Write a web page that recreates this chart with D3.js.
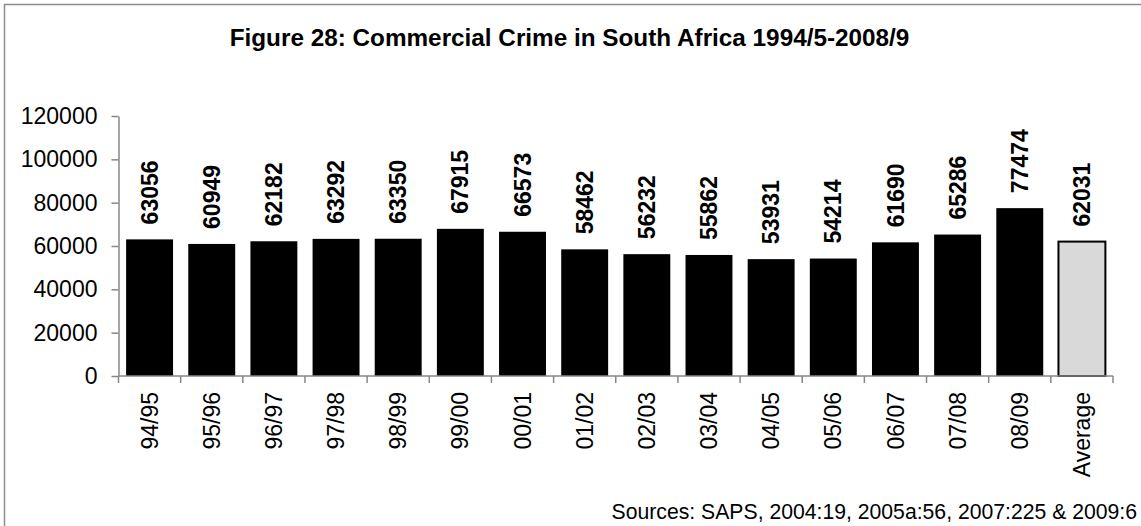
<!DOCTYPE html>
<html>
<head>
<meta charset="utf-8">
<script src="https://cdn.jsdelivr.net/npm/d3@7"></script>
<style>
  html, body { margin: 0; padding: 0; background: #fff; }
  svg { display: block; font-family: "Liberation Sans", Arial, Helvetica, sans-serif; }
</style>
</head>
<body>
<svg id="chart" width="1141" height="526"></svg>
<script>
// Commercial crime cases per financial year, plus the period average
const categories = ["94/95", "95/96", "96/97", "97/98", "98/99", "99/00", "00/01", "01/02",
                    "02/03", "03/04", "04/05", "05/06", "06/07", "07/08", "08/09", "Average"];
const values = [63056, 60949, 62182, 63292, 63350, 67915, 66573, 58462,
                56232, 55862, 53931, 54214, 61690, 65286, 77474, 62031];
const yTicks = [0, 20000, 40000, 60000, 80000, 100000, 120000];
const titleText = "Figure 28: Commercial Crime in South Africa 1994/5-2008/9";
const sourceText = "Sources: SAPS, 2004:19, 2005a:56, 2007:225 & 2009:6";

const svg = d3.select("#chart");
const W = 1141, H = 526;
const axisColor = "#878787";

// outer frame
svg.append("rect")
  .attr("x", 4.5).attr("y", 4.5)
  .attr("width", W + 10).attr("height", H + 10)
  .attr("fill", "#fff")
  .attr("stroke", "#8c8c8c").attr("stroke-width", 1.5);

const plot = { left: 118.5, right: 1113, top: 116, bottom: 376 };

const x = d3.scaleBand()
  .domain(categories)
  .range([plot.left, plot.right])
  .paddingInner(0.245)
  .paddingOuter(0.1225);

const y = d3.scaleLinear()
  .domain([0, 120000])
  .range([plot.bottom, plot.top]);

// title
svg.append("text")
  .attr("x", 569.5).attr("y", 46)
  .attr("text-anchor", "middle")
  .attr("font-weight", "bold")
  .attr("font-size", 24.3)
  .attr("fill", "#000")
  .text(titleText);

// bars
svg.append("g").selectAll("rect")
  .data(categories)
  .join("rect")
  .attr("x", d => x(d))
  .attr("width", x.bandwidth())
  .attr("y", (d, i) => y(values[i]))
  .attr("height", (d, i) => y(0) - y(values[i]))
  .attr("fill", d => d === "Average" ? "#d9d9d9" : "#000")
  .attr("stroke", d => d === "Average" ? "#000" : "none")
  .attr("stroke-width", 2);

// value labels above bars, rotated
svg.append("g").selectAll("text")
  .data(categories)
  .join("text")
  .attr("transform", (d, i) => `translate(${x(d) + x.bandwidth() / 2},${y(values[i]) - 15}) rotate(-90)`)
  .attr("dy", "0.35em")
  .attr("text-anchor", "start")
  .attr("font-weight", "bold")
  .attr("font-size", 23)
  .attr("fill", "#000")
  .text((d, i) => values[i]);

// y axis
const yAxis = svg.append("g")
  .attr("transform", `translate(${plot.left},0)`)
  .call(d3.axisLeft(y).tickValues(yTicks).tickSize(7).tickPadding(14).tickSizeOuter(0).tickFormat(d3.format("d")));
yAxis.select(".domain").attr("stroke", axisColor).attr("stroke-width", 1.5);
yAxis.selectAll(".tick line").attr("stroke", axisColor).attr("stroke-width", 1.5);
yAxis.selectAll(".tick text")
  .attr("font-size", 23)
  .attr("font-family", "Liberation Sans, Arial, sans-serif")
  .attr("fill", "#000");

// x axis: baseline with ticks at category boundaries
const xg = svg.append("g");
xg.append("line")
  .attr("x1", plot.left).attr("x2", plot.right)
  .attr("y1", plot.bottom).attr("y2", plot.bottom)
  .attr("stroke", axisColor).attr("stroke-width", 1.5);
const boundaries = d3.range(categories.length + 1).map(i => plot.left + i * (plot.right - plot.left) / categories.length);
xg.selectAll("line.tk")
  .data(boundaries)
  .join("line")
  .attr("class", "tk")
  .attr("x1", d => d).attr("x2", d => d)
  .attr("y1", plot.bottom).attr("y2", plot.bottom + 7)
  .attr("stroke", axisColor).attr("stroke-width", 1.5);

// category labels, rotated
xg.selectAll("text")
  .data(categories)
  .join("text")
  .attr("transform", d => `translate(${x(d) + x.bandwidth() / 2},${plot.bottom + 16}) rotate(-90)`)
  .attr("dy", "0.35em")
  .attr("text-anchor", "end")
  .attr("font-size", 23)
  .attr("fill", "#000")
  .text(d => d);

// source note
svg.append("text")
  .attr("x", 1137).attr("y", 519)
  .attr("text-anchor", "end")
  .attr("font-size", 21.2)
  .attr("fill", "#000")
  .text(sourceText);
</script>
</body>
</html>
